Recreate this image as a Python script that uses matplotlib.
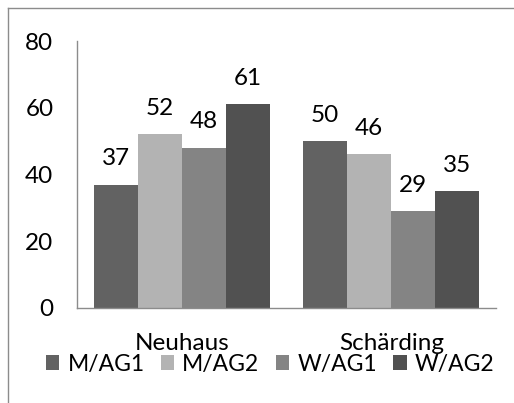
import matplotlib
matplotlib.use("Agg")
import matplotlib.pyplot as plt
import numpy as np
from matplotlib.lines import Line2D
from matplotlib.patches import Patch

categories = ["Neuhaus", "Schärding"]
series = ["M/AG1", "M/AG2", "W/AG1", "W/AG2"]
values = {
    "M/AG1": [37, 50],
    "M/AG2": [52, 46],
    "W/AG1": [48, 29],
    "W/AG2": [61, 35],
}
colors = ["#626262", "#b3b3b3", "#848484", "#515151"]
yticks = [0, 20, 40, 60, 80]

plt.rcParams['font.family'] = ['Lato', 'DejaVu Sans']
FS = 17.5

W, H = 514, 403
fig = plt.figure(figsize=(W / 100, H / 100), dpi=100)
ax = fig.add_axes([77 / W, 1 - 308 / H, (496 - 77) / W, (308 - 41) / H])

x = np.arange(len(categories))
bw = 0.21
for i, (s, c) in enumerate(zip(series, colors)):
    offs = (i - 1.5) * bw
    ax.bar(x + offs, values[s], width=bw, color=c, label=s)
    for xi, v in zip(x + offs, values[s]):
        ax.annotate(str(v), (xi, v), xytext=(0, 14), textcoords="offset points",
                    ha="center", va="baseline", fontsize=FS)

ax.set_xlim(-0.5, 1.5)
ax.set_ylim(0, 80)
ax.set_yticks(yticks)
ax.set_xticks(x)
ax.set_xticklabels(categories)
ax.tick_params(axis="y", length=0, pad=17, labelsize=FS)
ax.tick_params(axis="x", length=0, pad=18, labelsize=FS)
for side in ["top", "right"]:
    ax.spines[side].set_visible(False)
for side in ["left", "bottom"]:
    ax.spines[side].set_color("#8c8c8c")
    ax.spines[side].set_linewidth(1)

handles = [Patch(facecolor=c, edgecolor="none") for c in colors]
fig.legend(handles, series, loc="center", bbox_to_anchor=(270 / W, 1 - 364 / H),
           ncol=4, frameon=False, fontsize=16.5, handlelength=0.6, handleheight=0.6,
           handletextpad=0.35, columnspacing=0.7, borderaxespad=0, borderpad=0)

# outer frame
fig.add_artist(Line2D([8 / W, 8 / W], [0, 1 - 8 / H], color="#8c8c8c", lw=1))
fig.add_artist(Line2D([8 / W, 1], [1 - 8 / H, 1 - 8 / H], color="#8c8c8c", lw=1))

fig.savefig("out.png", dpi=100)
